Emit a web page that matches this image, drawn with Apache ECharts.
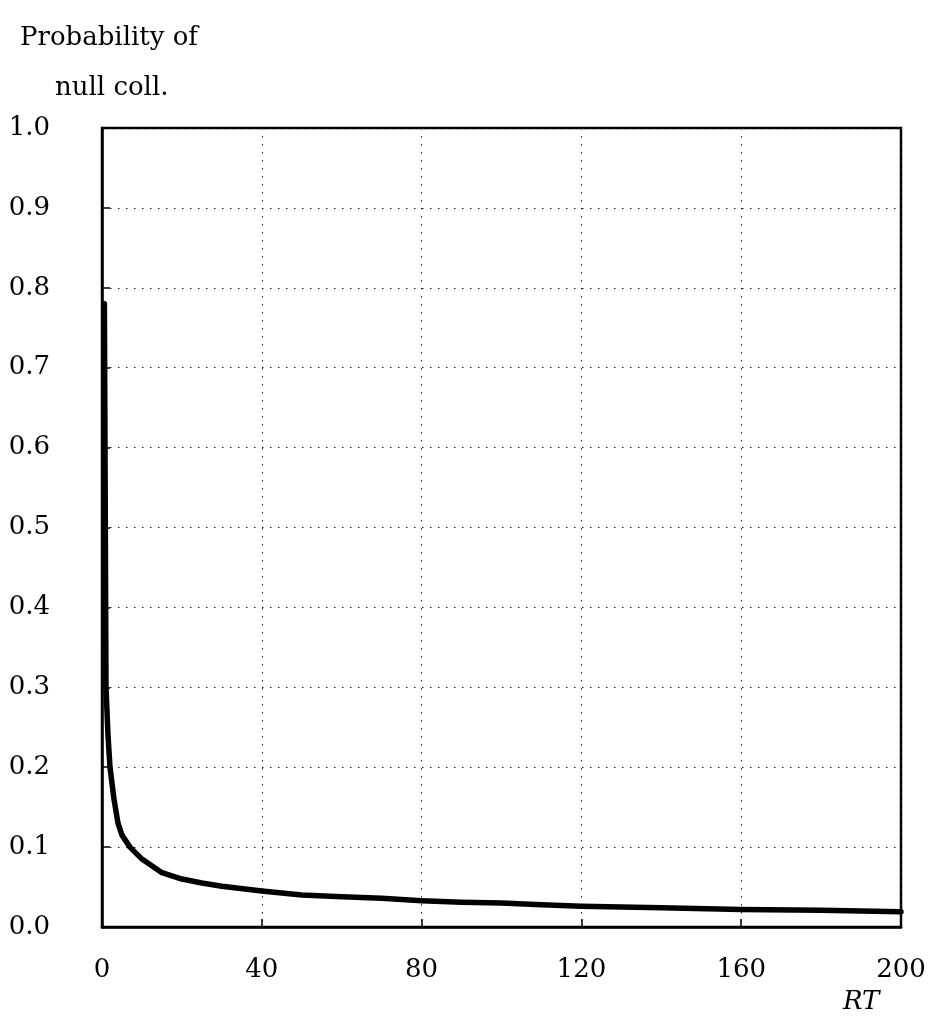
<!DOCTYPE html>
<html>
<head>
<meta charset="utf-8">
<title>Probability of null collision vs RT</title>
<script src="https://cdn.jsdelivr.net/npm/echarts@6/dist/echarts.min.js"></script>
<style>
  html, body { margin: 0; padding: 0; background: #ffffff; }
  #chart { width: 936px; height: 1024px; }
</style>
</head>
<body>
<div id="chart"></div>
<script>
// RT values and the matching probability of a null collision
const rtValues = [0.6, 1.0, 1.5, 2, 3, 4, 5, 7, 10, 15, 20, 25, 30, 40, 50, 60, 70, 80, 90, 100, 110, 120, 140, 160, 180, 200];
const probValues = [0.78, 0.30, 0.24, 0.20, 0.16, 0.13, 0.115, 0.100, 0.085, 0.068, 0.060, 0.055, 0.051, 0.045, 0.040, 0.038, 0.036, 0.033, 0.031, 0.030, 0.028, 0.026, 0.024, 0.022, 0.021, 0.019];

const yTitleLines = ['Probability of', 'null coll.'];
const xTitle = 'RT';

const FONT = '"DejaVu Serif", "Liberation Serif", serif';
const points = rtValues.map((x, i) => [x, probValues[i]]);

const chart = echarts.init(document.getElementById('chart'), null, { renderer: 'canvas' });

const gridLine = { show: true, lineStyle: { color: '#222', width: 1, type: [1.5, 6.5] } };

chart.setOption({
  backgroundColor: '#ffffff',
  animation: false,
  title: [
    { text: yTitleLines[0], left: 15, top: 20, textStyle: { fontFamily: FONT, fontSize: 26, fontWeight: 'normal', color: '#000' } },
    { text: yTitleLines[1], left: 50, top: 70, textStyle: { fontFamily: FONT, fontSize: 26, fontWeight: 'normal', color: '#000' } },
    { text: xTitle, left: 838, top: 984, textStyle: { fontFamily: FONT, fontSize: 26, fontWeight: 'normal', fontStyle: 'italic', color: '#000' } }
  ],
  grid: {
    left: 102, right: 35, top: 128, bottom: 97,
    show: true, borderColor: '#000', borderWidth: 2.5, backgroundColor: 'transparent'
  },
  xAxis: {
    type: 'value', min: 0, max: 200, interval: 40,
    axisLine: { show: true, lineStyle: { color: '#000', width: 2.5 } },
    axisTick: { show: true, inside: true, length: 8, lineStyle: { color: '#000', width: 1.5 } },
    axisLabel: { margin: 30, fontFamily: FONT, fontSize: 26, color: '#000' },
    splitLine: gridLine
  },
  yAxis: {
    type: 'value', min: 0, max: 1, interval: 0.1,
    axisLine: { show: true, lineStyle: { color: '#000', width: 2.5 } },
    axisTick: { show: true, inside: true, length: 8, lineStyle: { color: '#000', width: 1.5 } },
    axisLabel: { margin: 52, fontFamily: FONT, fontSize: 26, color: '#000', formatter: v => v.toFixed(1) },
    splitLine: gridLine
  },
  series: [{
    type: 'line',
    data: points,
    showSymbol: false,
    smooth: false,
    lineStyle: { color: '#000', width: 5.5, join: 'round', cap: 'round' },
    z: 5
  }]
});
</script>
</body>
</html>
